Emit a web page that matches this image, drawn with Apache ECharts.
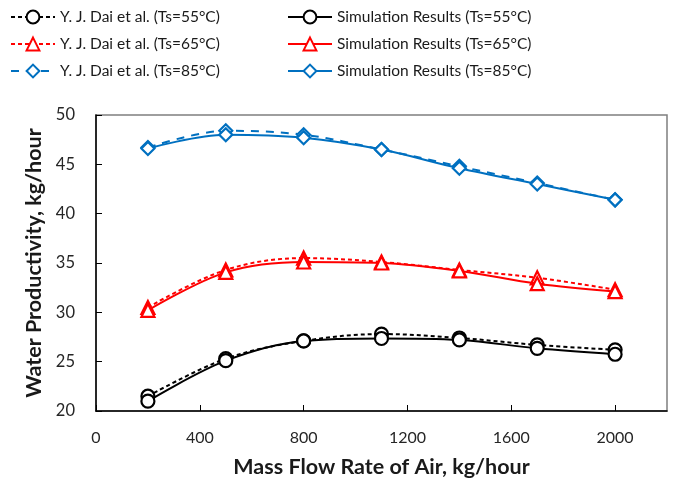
<!DOCTYPE html>
<html>
<head>
<meta charset="utf-8">
<script src="https://cdn.jsdelivr.net/npm/echarts@6/dist/echarts.min.js"></script>
<style>
  html, body { margin: 0; padding: 0; background: #fff; }
  #chart { width: 684px; height: 486px; }
</style>
</head>
<body>
<div id="chart"></div>
<script>
// Air mass flow rates, kg/hour
const flowRates = [200, 500, 800, 1100, 1400, 1700, 2000];

// Water productivity, kg/hour
const dai55 = [21.5, 25.3, 27.1, 27.8, 27.4, 26.7, 26.2];
const dai65 = [30.5, 34.3, 35.5, 35.1, 34.3, 33.5, 32.3];
const dai85 = [46.7, 48.4, 48.0, 46.5, 44.8, 43.1, 41.4];
const sim55 = [21.0, 25.1, 27.1, 27.35, 27.2, 26.35, 25.75];
const sim65 = [30.2, 34.05, 35.1, 35.0, 34.2, 32.9, 32.1];
const sim85 = [46.6, 48.0, 47.7, 46.5, 44.6, 43.0, 41.4];

const xTicks = { min: 0, max: 2200, interval: 400 };
const yTicks = { min: 20, max: 50, interval: 5 };

const BLACK = '#000000', RED = '#ff0000', BLUE = '#0070c0';
const FONT = 'Lato';

function pairs(ys) { return flowRates.map((x, i) => [x, ys[i]]); }

function makeSeries(name, ys, color, symbol, dash) {
  return {
    name: name,
    type: 'line',
    data: pairs(ys),
    smooth: 0.35,
    symbol: symbol,
    symbolSize: 13,
    showAllSymbol: true,
    lineStyle: { color: color, width: 2, type: dash },
    itemStyle: { color: '#ffffff', borderColor: color, borderWidth: 2.2 },
    emphasis: { disabled: true },
    z: dash === 'solid' ? 3 : 2
  };
}

const series = [
  makeSeries('Y. J. Dai et al. (Ts=55°C)', dai55, BLACK, 'circle', [4, 3]),
  makeSeries('Y. J. Dai et al. (Ts=65°C)', dai65, RED, 'triangle', [4, 3]),
  makeSeries('Y. J. Dai et al. (Ts=85°C)', dai85, BLUE, 'diamond', [8, 7]),
  makeSeries('Simulation Results (Ts=55°C)', sim55, BLACK, 'circle', 'solid'),
  makeSeries('Simulation Results (Ts=65°C)', sim65, RED, 'triangle', 'solid'),
  makeSeries('Simulation Results (Ts=85°C)', sim85, BLUE, 'diamond', 'solid')
];

const legendCommon = {
  orient: 'vertical',
  top: 9,
  padding: 0,
  itemWidth: 44,
  itemHeight: 16,
  itemGap: 11,
  selectedMode: false,
  textStyle: { fontFamily: FONT, fontSize: 15.5, color: '#1a1a1a' }
};

const chart = echarts.init(document.getElementById('chart'), null, { renderer: 'canvas' });
chart.setOption({
  animation: false,
  backgroundColor: '#ffffff',
  legend: [
    Object.assign({}, legendCommon, { left: 10, data: series.slice(0, 3).map(s => s.name) }),
    Object.assign({}, legendCommon, { left: 287, data: series.slice(3).map(s => s.name) })
  ],
  grid: {
    left: 96, right: 17, top: 115, bottom: 75,
    show: true, borderColor: '#7f7f7f', borderWidth: 1.5
  },
  xAxis: {
    type: 'value',
    min: xTicks.min, max: xTicks.max, interval: xTicks.interval,
    name: 'Mass Flow Rate of Air, kg/hour',
    nameLocation: 'middle',
    nameGap: 45,
    nameTextStyle: { fontFamily: FONT, fontSize: 21.5, fontWeight: 'bold', color: '#1a1a1a' },
    axisLine: { show: true, lineStyle: { color: '#000', width: 1.5 } },
    axisTick: { show: true, inside: true, length: 6, lineStyle: { color: '#000' } },
    axisLabel: {
      margin: 19, fontFamily: FONT, fontSize: 16, color: '#262626',
      showMaxLabel: false,
      formatter: v => String(v)
    },
    splitLine: { show: false }
  },
  yAxis: {
    type: 'value',
    min: yTicks.min, max: yTicks.max, interval: yTicks.interval,
    name: 'Water Productivity, kg/hour',
    nameLocation: 'middle',
    nameGap: 49,
    nameTextStyle: { fontFamily: FONT, fontSize: 21.5, fontWeight: 'bold', color: '#1a1a1a' },
    axisLine: { show: true, lineStyle: { color: '#000', width: 1.5 } },
    axisTick: { show: true, inside: true, length: 6, lineStyle: { color: '#000' } },
    axisLabel: { margin: 21, fontFamily: FONT, fontSize: 16.5, color: '#262626', formatter: v => String(v) },
    splitLine: { show: false }
  },
  series: series
});
</script>
</body>
</html>
